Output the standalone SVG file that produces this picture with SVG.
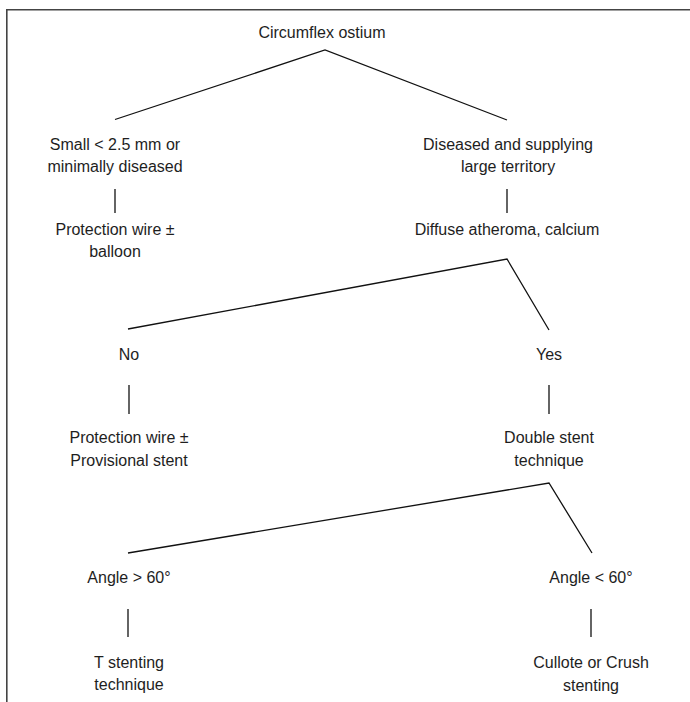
<svg xmlns="http://www.w3.org/2000/svg" width="690" height="702" viewBox="0 0 690 702">
<style>
text{font-family:"Liberation Sans",Arial,sans-serif;font-size:16px;fill:#1e1e1e;text-anchor:middle}
.c{fill:none;stroke:#111;stroke-width:1.3}
.frame{fill:none;stroke:#444;stroke-width:1.6}
</style>
<rect width="690" height="702" fill="#fff"/>
<path class="frame" d="M6.8,702 V9.8 H690"/>
<g id="connectors">
<polyline class="c" points="115,119.5 325,50 507,120"/>
<line class="c" x1="115" y1="189" x2="115" y2="213"/>
<line class="c" x1="507" y1="189" x2="507" y2="213"/>
<polyline class="c" points="128,329 507,259 549,330"/>
<line class="c" x1="129" y1="385" x2="129" y2="414"/>
<line class="c" x1="549" y1="385" x2="549" y2="414"/>
<polyline class="c" points="128,553 549,483 592,553"/>
<line class="c" x1="128" y1="609" x2="128" y2="637"/>
<line class="c" x1="591" y1="609" x2="591" y2="637"/>
</g>
<g id="n-root"><text x="322" y="38">Circumflex ostium</text></g>
<g id="n-small"><text x="115" y="150">Small &lt; 2.5 mm or</text><text x="115" y="172">minimally diseased</text></g>
<g id="n-diseased"><text x="508" y="150">Diseased and supplying</text><text x="508" y="172">large territory</text></g>
<g id="n-protect1"><text x="115" y="235">Protection wire ±</text><text x="115" y="257">balloon</text></g>
<g id="n-diffuse"><text x="507" y="235">Diffuse atheroma, calcium</text></g>
<g id="n-no"><text x="129" y="360">No</text></g>
<g id="n-yes"><text x="549" y="360">Yes</text></g>
<g id="n-protect2"><text x="129" y="443">Protection wire ±</text><text x="129" y="466">Provisional stent</text></g>
<g id="n-double"><text x="549" y="443">Double stent</text><text x="549" y="466">technique</text></g>
<g id="n-angle-gt"><text x="129" y="583">Angle &gt; 60°</text></g>
<g id="n-angle-lt"><text x="591" y="583">Angle &lt; 60°</text></g>
<g id="n-t"><text x="129" y="668">T stenting</text><text x="129" y="690">technique</text></g>
<g id="n-cullote"><text x="591" y="668">Cullote or Crush</text><text x="591" y="691">stenting</text></g>
</svg>
